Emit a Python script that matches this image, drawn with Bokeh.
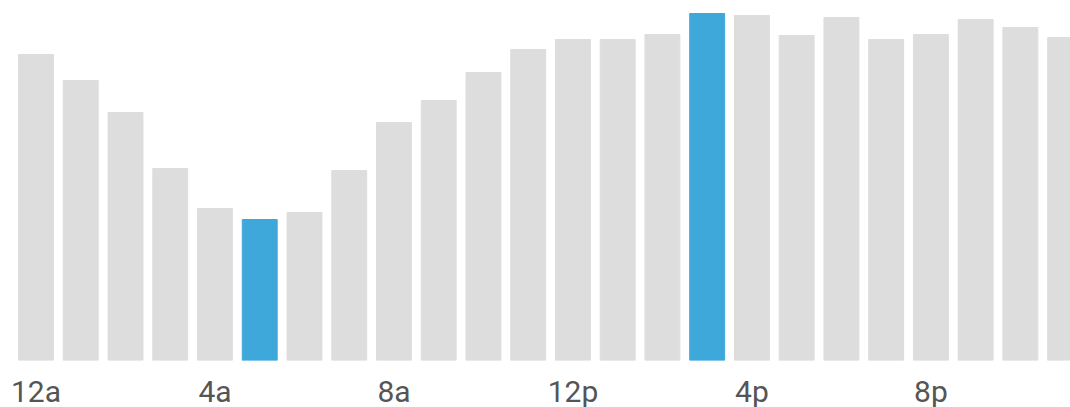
from bokeh.plotting import figure
from bokeh.models import ColumnDataSource, FixedTicker, Range1d
from bokeh.embed import file_html
from bokeh.resources import INLINE

hours = list(range(24))
values = [306, 280, 248, 192, 152, 141, 148, 190, 238, 260, 288, 311,
          321, 321, 326, 347, 345, 325, 343, 321, 326, 341, 333, 323]
highlight = [5, 15]
tick_positions = [0, 4, 8, 12, 16, 20]
tick_labels = ["12a", "4a", "8a", "12p", "4p", "8p"]

colors = ["#3fa8db" if h in highlight else "#dddddd" for h in hours]
src = ColumnDataSource(dict(x=hours, top=values, color=colors))

p = figure(frame_width=1062, frame_height=352, output_backend="svg",
           toolbar_location=None, x_range=Range1d(-0.615, 23.12),
           y_range=Range1d(0, 352), min_border=0, min_border_left=8,
           min_border_top=8, min_border_bottom=0, min_border_right=0)
p.vbar(x="x", top="top", bottom=0, width=0.78, color="color", source=src)

p.xgrid.visible = False
p.ygrid.visible = False
p.yaxis.visible = False
p.outline_line_color = None
p.background_fill_color = "white"
p.border_fill_color = "white"

ax = p.xaxis[0]
ax.ticker = FixedTicker(ticks=tick_positions)
ax.major_label_overrides = {t: l for t, l in zip(tick_positions, tick_labels)}
ax.axis_line_color = None
ax.major_tick_line_color = None
ax.minor_tick_line_color = None
ax.major_label_text_font = "Roboto"
ax.major_label_text_font_size = "30px"
ax.major_label_text_color = "#555555"
ax.major_label_standoff = 7

open("out.html", "w").write(file_html(p, INLINE))
